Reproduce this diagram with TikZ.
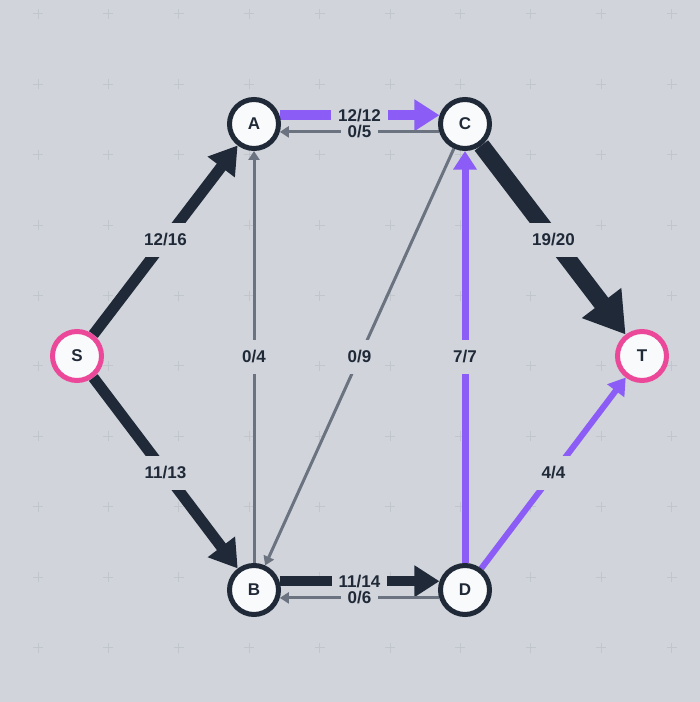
\documentclass[tikz,border=0pt]{standalone}
\usepackage{fontspec}
\setmainfont{Liberation Sans}
\usepackage{tikz}
\usetikzlibrary{arrows.meta,backgrounds,positioning}

\definecolor{backdrop}{HTML}{D1D5DB}
\definecolor{gridmarkcol}{HTML}{C1C5CC}
\definecolor{ink}{HTML}{1F2937}
\definecolor{lilac}{HTML}{8B5CF6}
\definecolor{slate}{HTML}{6B7280}
\definecolor{rose}{HTML}{EC4899}
\definecolor{paper}{HTML}{F9FAFB}

\begin{document}
\begin{tikzpicture}[x=1pt, y=1pt, on grid,
        vertex/.style = {circle, draw = ink, line width = 5pt, fill = paper, minimum size = 49pt, inner sep = 0pt, text = ink, font = \fontsize{17}{19}\selectfont\bfseries},
        terminal/.style = {vertex, draw = rose},
        amount/.style = {fill = backdrop, text = ink, inner xsep = 7pt, inner ysep = 11pt, text height = 12pt, text depth = 0pt, font = \fontsize{17}{19}\selectfont\bfseries},
        twin/.style = {amount, inner ysep = 2pt},
        pipe/.style = {line width = #1, -{Triangle[length = 4pt 2.1, width = 6pt 2.4]}},
        loaded/.style = {pipe = #1, draw = ink},
        saturated/.style = {pipe = #1, draw = lilac},
        unused/.style = {draw = slate, line width = 3pt, -{Triangle[length = 9pt, width = 11pt]}},
        gridmark/.style = {draw = gridmarkcol, line width = 1pt}]
        \node[terminal] (S) at (77, 346) {S};
        \node[vertex, above right = 232pt and 177pt of S] (A) {A};
        \node[vertex, below right = 234pt and 177pt of S] (B) {B};
        \node[vertex, right = 211pt of A] (C) {C};
        \node[vertex, right = 211pt of B] (D) {D};
        \node[terminal, right = 565pt of S] (T) {T};
        \begin{scope}[on background layer]
                \fill[backdrop] (0, 0) rectangle (700, 702);
                \foreach \i in {0,...,9}
                        \foreach \j in {0,...,9}
                                \draw[gridmark] ({33 + 70.4*\i}, {688 - 70.4*\j}) -- ++(10, 0)
                                                ({38 + 70.4*\i}, {683 - 70.4*\j}) -- ++(0, 10);
                \draw[loaded = 11pt] (S) -- node[amount] (fSA) {12/16} (A);
                \draw[loaded = 11pt] (S) -- node[amount] (fSB) {11/13} (B);
                \draw[saturated = 10pt] (A.19) -- node[twin] (fAC) {12/12} (C.161);
                \draw[unused] (C.197) -- node[twin] (fCA) {0/5} (A.343);
                \draw[loaded = 10pt] (B.19) -- node[twin] (fBD) {11/14} (D.161);
                \draw[unused] (D.197) -- node[twin] (fDB) {0/6} (B.343);
                \draw[unused] (B) -- node[amount] (fBA) {0/4} (A);
                \draw[unused] (C) -- node[amount] (fCB) {0/9} (B);
                \draw[saturated = 7pt] (D) -- node[amount] (fDC) {7/7} (C);
                \draw[loaded = 17pt] (C) -- node[amount] (fCT) {19/20} (T);
                \draw[saturated = 6pt] (D) -- node[amount] (fDT) {4/4} (T);
        \end{scope}
\end{tikzpicture}
\end{document}
